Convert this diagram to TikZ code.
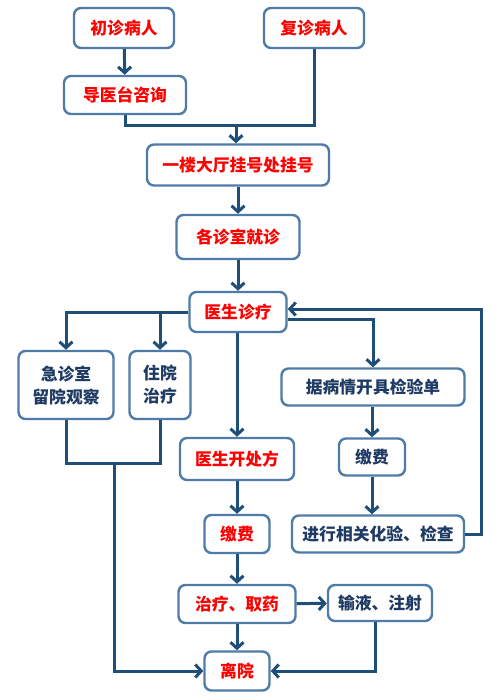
\documentclass[tikz,border=0pt]{standalone}
\usepackage{fontspec}
\setmainfont{Noto Sans CJK SC}
\usetikzlibrary{arrows.meta}
\definecolor{bordc}{HTML}{4F7BA8}
\definecolor{linec}{HTML}{1F4E79}
\definecolor{txtd}{HTML}{1F3B64}
\definecolor{txtr}{HTML}{FF0000}
\begin{document}
\begin{tikzpicture}[x=1pt,y=-1pt,
  box/.style={draw=bordc, line width=2.4pt, rounded corners=7pt, fill=white,
    inner sep=0pt, align=center, font=\fontsize{16.8}{23}\selectfont\bfseries},
  rt/.style={text=txtr},
  dt/.style={text=txtd},
  conn/.style={draw=linec, line width=3pt, -{Straight Barb[length=6pt,width=13pt]}},
  plain/.style={draw=linec, line width=3pt}]
\useasboundingbox (0,0) rectangle (500,700);

\node[box,rt,minimum width=100pt,minimum height=40pt] (a) at (124,28) {初诊病人};
\node[box,rt,minimum width=100pt,minimum height=40pt] (b) at (314,28) {复诊病人};
\node[box,rt,minimum width=122pt,minimum height=38pt] (c) at (125,95) {导医台咨询};
\node[box,rt,minimum width=182pt,minimum height=41pt] (d) at (238,165) {一楼大厅挂号处挂号};
\node[box,rt,minimum width=123pt,minimum height=44pt] (e) at (238,237) {各诊室就诊};
\node[box,rt,minimum width=97pt,minimum height=40pt] (f) at (238,312) {医生诊疗};
\node[box,dt,minimum width=95pt,minimum height=68pt] (g) at (66,385) {急诊室\\留院观察};
\node[box,dt,minimum width=61pt,minimum height=68pt] (h) at (160,385) {住院\\治疗};
\node[box,rt,minimum width=114pt,minimum height=42pt] (i) at (237,459) {医生开处方};
\node[box,rt,minimum width=65pt,minimum height=38pt] (j) at (237,534) {缴费};
\node[box,rt,minimum width=117pt,minimum height=38pt] (k) at (237,604) {治疗、取药};
\node[box,dt,minimum width=104pt,minimum height=36pt] (l) at (380,603) {输液、注射};
\node[box,rt,minimum width=65pt,minimum height=39pt] (m) at (237,671) {离院};
\node[box,dt,minimum width=183pt,minimum height=37pt] (n) at (373,387) {据病情开具检验单};
\node[box,dt,minimum width=66pt,minimum height=37pt] (o) at (372,457) {缴费};
\node[box,dt,minimum width=172pt,minimum height=37pt] (p) at (378,534) {进行相关化验、检查};

\coordinate (j1) at (236,126);
\coordinate (j2) at (114,463);
\coordinate (r) at (481,0);

\draw[conn] (a) -- (c);
\draw[plain] (c.south) -- (c.south |- j1) -- (b.south |- j1) -- (b.south);
\draw[conn] (j1) -- (j1 |- d.north);
\draw[conn] (d) -- (e);
\draw[conn] (e) -- (f);
\draw[conn] (f.west) -| (g.north);
\draw[conn] (h.north |- f.west) -- (h.north);
\draw[conn] (f.south -| i) -- (i.north);
\draw[conn] ([yshift=-7pt]f.east) -| (n.north);
\draw[conn] (n.south -| o) -- (o.north);
\draw[conn] (o.south) -- (o.south |- p.north);
\draw[conn] (p.east) -- (p.east -| r) |- ([yshift=3pt]f.east);
\draw[conn] (i) -- (j);
\draw[conn] (j) -- (k);
\draw[conn] (k) -- (l);
\draw[conn] (k) -- (m);
\draw[plain] (g.south) -- (g.south |- j2) -- (h.south |- j2) -- (h.south);
\draw[conn] (j2) |- (m.west);
\draw[conn] ([xshift=-5pt]l.south) |- (m.east);
\end{tikzpicture}
\end{document}
